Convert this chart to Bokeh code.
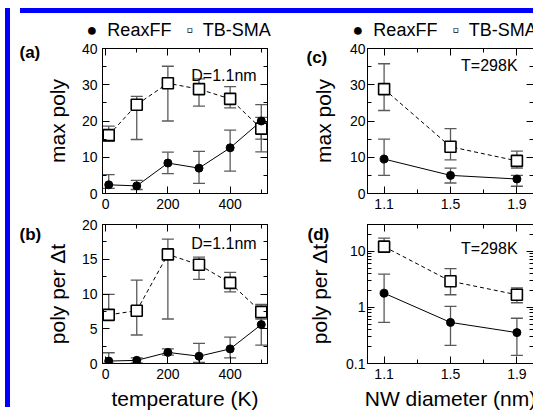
from bokeh.plotting import figure
from bokeh.models import (ColumnDataSource, Whisker, TeeHead, FixedTicker, LinearAxis,
                          LogAxis, Label, Div)
from bokeh.layouts import row, column
from bokeh.embed import file_html
from bokeh.resources import INLINE

FONT = "Liberation Sans"
ERR = "#5a5a5a"
BLUE = "#0000ff"

# ---------------- data ----------------
series_names = ["ReaxFF", "TB-SMA"]

temps = [10, 100, 200, 300, 400, 500]
temp_ticks = [0, 200, 400]
temp_minor = [100, 300, 500]

a_reax = [2.4, 2.1, 8.4, 7.0, 12.6, 20.0]
a_reax_lo = [1.4, 1.1, 5.5, 2.8, 6.2, 15.0]
a_reax_hi = [5.2, 3.6, 11.4, 11.6, 17.5, 24.5]
a_tb = [16.1, 24.5, 30.4, 28.8, 26.1, 17.9]
a_tb_lo = [14.4, 14.9, 20.0, 24.1, 23.6, 11.5]
a_tb_hi = [18.6, 26.8, 35.1, 31.6, 29.5, 21.0]

b_reax = [0.35, 0.45, 1.6, 1.05, 2.1, 5.6]
b_reax_lo = [0.0, 0.1, 1.2, 0.15, 0.8, 2.65]
b_reax_hi = [1.55, 0.8, 2.1, 2.9, 3.8, 8.4]
b_tb = [7.0, 7.6, 15.7, 14.2, 11.6, 7.4]
b_tb_lo = [6.3, 4.1, 6.4, 12.1, 10.3, 6.4]
b_tb_hi = [9.95, 12.0, 17.9, 15.3, 13.1, 8.5]

diam = [1.1, 1.5, 1.9]
diam_ticks = [1.1, 1.5, 1.9]
diam_minor = [1.3, 1.7]

c_reax = [9.5, 5.0, 4.0]
c_reax_lo = [5.0, 2.9, 2.0]
c_reax_hi = [15.0, 7.0, 5.0]
c_tb = [28.8, 12.9, 9.0]
c_tb_lo = [22.9, 9.3, 7.0]
c_tb_hi = [35.8, 17.9, 11.7]

d_reax = [1.79, 0.54, 0.355]
d_reax_lo = [0.54, 0.21, 0.14]
d_reax_hi = [3.9, 1.04, 0.64]
d_tb = [12.1, 2.93, 1.68]
d_tb_lo = [10.3, 1.68, 1.21]
d_tb_hi = [17.2, 4.9, 2.23]

max_ticks = [0, 10, 20, 30, 40]
max_minor = [5, 15, 25, 35]
rate_ticks = [0, 5, 10, 15, 20]
rate_minor = [2.5, 7.5, 12.5, 17.5]
log_ticks = [0.1, 1, 10]
log_minor = [0.2, 0.3, 0.4, 0.5, 0.6, 0.7, 0.8, 0.9, 2, 3, 4, 5, 6, 7, 8, 9, 20, 30]
log_labels = {0.1: "0.1", 1: "1", 10: "10"}

NB = "\u00a0"
LEGEND_TEXT = "\u25cf" + NB * 2 + series_names[0] + NB * 3 + "\u25ab" + NB * 2 + series_names[1]


def style_axis(ax, ticks=None):
    ax.major_tick_in = 7
    ax.major_tick_out = 0
    ax.minor_tick_in = 4
    ax.minor_tick_out = 0
    ax.axis_line_color = "black"
    ax.major_tick_line_color = "black"
    ax.minor_tick_line_color = "black"
    ax.major_label_text_font = FONT
    ax.major_label_text_color = "black"
    ax.major_label_text_font_size = "14px"
    ax.axis_label_text_font = FONT
    ax.axis_label_text_font_style = "normal"
    ax.axis_label_text_font_size = "21px"
    ax.axis_label_text_color = "black"
    if ticks is not None:   # mirrored axis: ticks only
        ax.major_label_overrides = {t: "" for t in ticks}
        ax.major_label_text_font_size = "1px"
        ax.major_label_standoff = 0


def panel(fig_kw, xs, reax, reax_lo, reax_hi, tb, tb_lo, tb_hi, xt, xm, yt, ym,
          xlabel, ylabel, letter, letter_x, letter_dy, note, note_x, note_y, log=False,
          xstand=5, ystand=5, ylab_stand=10, xlab_stand=5, legend_x=None):
    p = figure(output_backend="svg", toolbar_location=None,
               y_axis_type="log" if log else "linear", **fig_kw)
    p.grid.visible = False
    p.outline_line_color = "black"
    p.background_fill_color = "white"
    p.border_fill_color = "white"
    xticker = FixedTicker(ticks=xt, minor_ticks=xm)
    yticker = FixedTicker(ticks=yt, minor_ticks=ym)
    p.xaxis.ticker = xticker
    p.yaxis.ticker = yticker
    for ax in p.xaxis + p.yaxis:
        style_axis(ax)
    p.xaxis.major_label_standoff = xstand
    p.yaxis.major_label_standoff = ystand
    p.xaxis.axis_label = xlabel
    p.yaxis.axis_label = ylabel
    p.yaxis.axis_label_standoff = ylab_stand
    p.xaxis.axis_label_standoff = xlab_stand
    if log:
        p.yaxis.major_label_overrides = log_labels
    top = LinearAxis(ticker=xticker)
    style_axis(top, ticks=xt)
    p.add_layout(top, "above")
    right = LogAxis(ticker=yticker) if log else LinearAxis(ticker=yticker)
    style_axis(right, ticks=yt)
    p.add_layout(right, "right")

    src_r = ColumnDataSource(dict(x=xs, y=reax, lo=reax_lo, hi=reax_hi))
    src_t = ColumnDataSource(dict(x=xs, y=tb, lo=tb_lo, hi=tb_hi))
    for src in (src_t, src_r):
        p.add_layout(Whisker(source=src, base="x", lower="lo", upper="hi", dimension="height",
                             line_color=ERR, line_width=1.3,
                             upper_head=TeeHead(size=12, line_color=ERR, line_width=1.3),
                             lower_head=TeeHead(size=12, line_color=ERR, line_width=1.3)))
    p.line("x", "y", source=src_t, line_dash="4 3", line_color="black", line_width=1)
    p.line("x", "y", source=src_r, line_color="black", line_width=1)
    p.scatter("x", "y", source=src_t, marker="square", size=11, fill_color="white",
              line_color="black", line_width=1.6)
    p.scatter("x", "y", source=src_r, marker="circle", size=8, fill_color="black",
              line_color="black")

    fh = fig_kw["height"] - fig_kw["min_border_top"] - fig_kw["min_border_bottom"]
    if legend_x is not None:
        p.add_layout(Label(x=legend_x, y=19, x_units="canvas", y_units="screen",
                           text=LEGEND_TEXT, text_font=FONT, text_font_size="18px",
                           text_baseline="middle", text_align="left", text_color="black"),
                     "above")

    p.add_layout(Label(x=letter_x, y=fh - letter_dy, x_units="canvas", y_units="screen",
                       text=letter, text_font=FONT, text_font_style="bold",
                       text_font_size="17px", text_baseline="middle", text_align="left",
                       text_color="black"), "left")
    p.add_layout(Label(x=note_x, y=note_y, text=note, text_font=FONT, text_font_size="16px",
                       text_baseline="middle", text_align="right", text_color="black"))
    return p


pa = panel(dict(width=259, height=198, x_range=(-10, 520), y_range=(0, 40),
                min_border_left=87, min_border_right=7, min_border_top=30, min_border_bottom=23),
           temps, a_reax, a_reax_lo, a_reax_hi, a_tb, a_tb_lo, a_tb_hi,
           temp_ticks, temp_minor, max_ticks, max_minor,
           None, "max poly", "(a)", 4, 4, "D=1.1nm", 485, 32.6, legend_x=71)

pb = panel(dict(width=259, height=196, x_range=(-10, 520), y_range=(0, 20),
                min_border_left=87, min_border_right=7, min_border_top=8, min_border_bottom=46),
           temps, b_reax, b_reax_lo, b_reax_hi, b_tb, b_tb_lo, b_tb_hi,
           temp_ticks, temp_minor, rate_ticks, rate_minor,
           "temperature (K)", "poly per \u0394t", "(b)", 4, 13, "D=1.1nm", 485, 17.3)

pc = panel(dict(width=260, height=198, x_range=(1.0, 2.0), y_range=(0, 40),
                min_border_left=93, min_border_right=1, min_border_top=30, min_border_bottom=23),
           diam, c_reax, c_reax_lo, c_reax_hi, c_tb, c_tb_lo, c_tb_hi,
           diam_ticks, diam_minor, max_ticks, max_minor,
           None, "max poly", "(c)", 32, 9, "T=298K", 1.904, 35.2,
           ystand=2, ylab_stand=12, legend_x=78)

pd = panel(dict(width=260, height=196, x_range=(1.0, 2.0), y_range=(0.1, 30),
                min_border_left=93, min_border_right=1, min_border_top=8, min_border_bottom=46),
           diam, d_reax, d_reax_lo, d_reax_hi, d_tb, d_tb_lo, d_tb_hi,
           diam_ticks, diam_minor, log_ticks, log_minor,
           "NW diameter (nm)", "poly per \u0394t", "(d)", 33, 13, "T=298K", 1.904, 11.0,
           log=True, ystand=2, ylab_stand=12)

GRAD = "linear-gradient(to bottom, #ffffff 0px, #ffffff 3px, #0000ff 3px, #0000ff 100%)"
left_bar = Div(text="", width=5, height=402,
               styles={"background-color": BLUE, "background-image": GRAD})
top_bar = Div(text="", width=519, height=8,
              styles={"background-color": BLUE,
                      "background-image": "linear-gradient(to bottom, #ffffff 0px, #ffffff 3px, #0000ff 3px, #0000ff 8px)"})
layout = row(left_bar, column(top_bar, row(pa, pc), row(pb, pd)))

open("out.html", "w").write(file_html(layout, INLINE))
